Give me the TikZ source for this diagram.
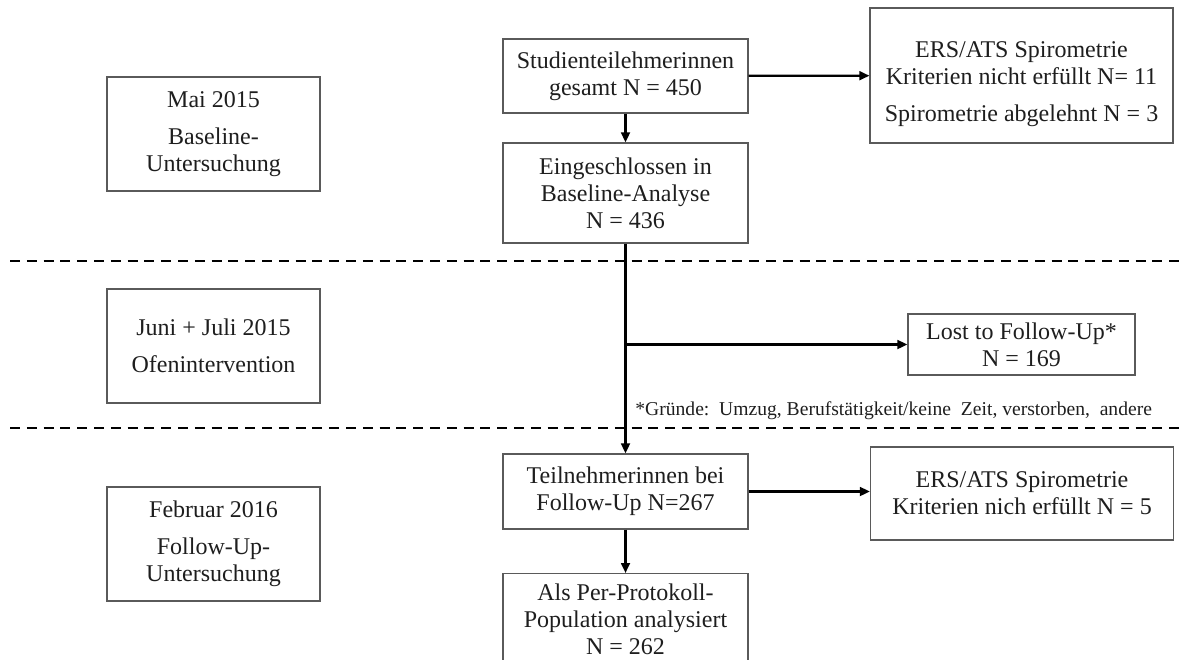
\documentclass[tikz,border=0pt]{standalone}
\usepackage{fontspec}
\setmainfont{Liberation Serif}
\usetikzlibrary{arrows.meta, positioning, calc}
\definecolor{fcgrey}{HTML}{5A5A5A}
\definecolor{fcink}{HTML}{1E1E1E}
\tikzset{
  box/.style={
    draw=fcgrey, line width=.6pt, align=center, text=fcink,
    font=\fontsize{12}{13.5}\selectfont, inner sep=2pt},
  flowbox/.style={box, minimum width=122.5pt},
  sidebox/.style={box, minimum width=151.5pt},
  phase/.style={box, minimum width=106.5pt, minimum height=57pt},
  note/.style={font=\fontsize{9.8}{11}\selectfont, text=fcink, inner sep=0pt},
  flow/.style={-{Triangle[length=5pt, width=4.4pt]}, draw=black, line width=1.1pt},
  split/.style={draw=black, line width=.9pt, dash pattern=on 5pt off 3.4pt},
}
\begin{document}
\begin{tikzpicture}[x=.5pt, y=-.5pt]
  \clip[use as bounding box] (0,0) rectangle (1192,659);
  % phases on the left
  \node[phase] (mai) at (213.5,134) {Mai 2015\\[5pt]Baseline-\\Untersuchung};
  \node[phase] (juni) at (213.5,346) {Juni + Juli 2015\\[5pt]Ofenintervention};
  \node[phase] (feb) at (213.5,544) {Februar 2016\\[5pt]Follow-Up-\\Untersuchung};
  % main column
  \node[flowbox, minimum height=37pt] (total) at (625.5,76)
       {Studienteilehmerinnen\\gesamt N = 450};
  \node[flowbox, minimum height=50pt] (base) at (625.5,193)
       {Eingeschlossen in\\Baseline-Analyse\\N = 436};
  \node[flowbox, minimum height=37.5pt] (follow) at (625.5,491.5)
       {Teilnehmerinnen bei\\Follow-Up N=267};
  \node[flowbox, minimum height=46pt, anchor=north] (pp) at (625.5,573)
       {Als Per-Protokoll-\\Population analysiert\\N = 262};
  % exclusions on the right
  \node[sidebox, minimum height=67.5pt] (excl1) at (1021.5,75.5)
       {\rule{0pt}{17pt}ERS/ATS Spirometrie\\Kriterien nicht erfüllt N= 11\\[5pt]Spirometrie abgelehnt N = 3};
  \node[box, minimum width=113.5pt, minimum height=30.5pt] (lost) at (1021.5,344.5)
       {Lost to Follow-Up*\\N = 169};
  \node[sidebox, minimum height=46.5pt] (excl2) at (1022,493.5)
       {ERS/ATS Spirometrie\\Kriterien nich erfüllt N = 5};
  \node[note, anchor=west] (why) at (635,411)
       {*Gründe:\ \ Umzug, Berufstätigkeit/keine\ \ Zeit, verstorben,\ \ andere};
  % phase borders
  \coordinate (sepa) at (10,261);
  \coordinate (sepb) at (10,428);
  \draw[split] (sepa) -- ++(1175,0);
  \draw[split] (sepb) -- ++(1175,0);
  % connectors
  \coordinate (branch) at (base.south |- lost.west);
  \draw[flow] (total) -- (base);
  \draw[flow] (total) -- (excl1);
  \draw[flow] (base) -- (follow);
  \draw[flow] (branch) -- (lost);
  \draw[flow] (follow) -- (pp);
  \draw[flow] (follow.east) -- (follow.east -| excl2.west);
\end{tikzpicture}
\end{document}
